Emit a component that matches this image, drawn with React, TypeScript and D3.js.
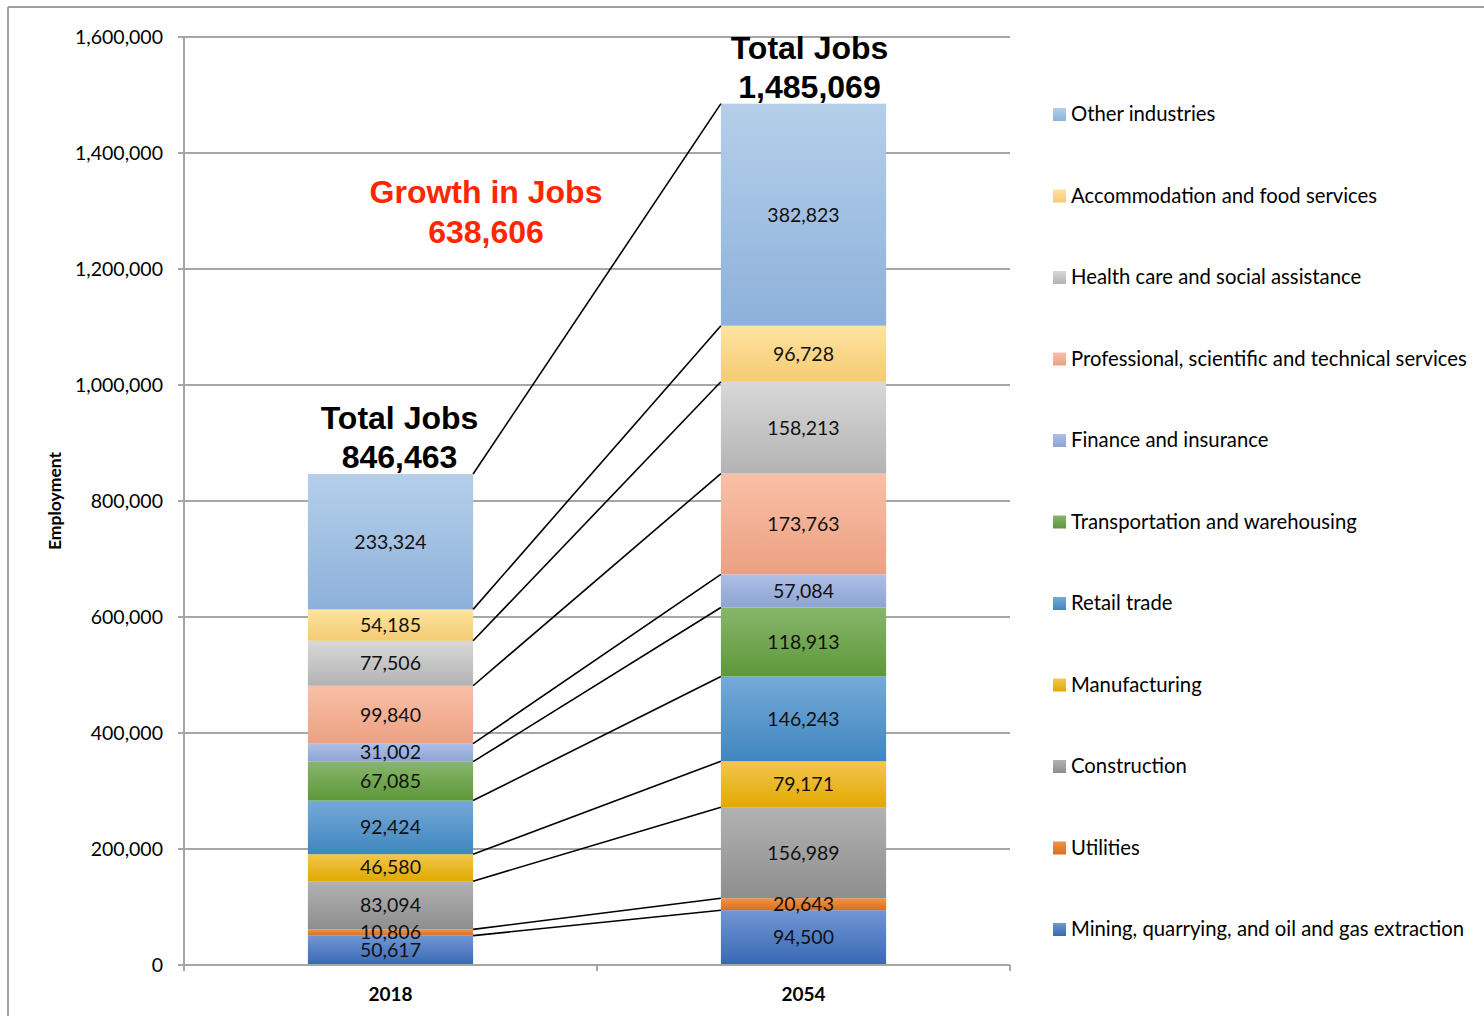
import React from "react";
import * as d3 from "d3";

const years = ["2018", "2054"];
const industries = [
  "Mining, quarrying, and oil and gas extraction",
  "Utilities",
  "Construction",
  "Manufacturing",
  "Retail trade",
  "Transportation and warehousing",
  "Finance and insurance",
  "Professional, scientific and technical services",
  "Health care and social assistance",
  "Accommodation and food services",
  "Other industries",
];
const values2018 = [50617, 10806, 83094, 46580, 92424, 67085, 31002, 99840, 77506, 54185, 233324];
const values2054 = [94500, 20643, 156989, 79171, 146243, 118913, 57084, 173763, 158213, 96728, 382823];
const totals = [846463, 1485069];
const growth = 638606;
const yTicks = [0, 200000, 400000, 600000, 800000, 1000000, 1200000, 1400000, 1600000];
const topColors = ["#7196d4", "#f09447", "#b2b2b2", "#f3c64e", "#76aad7", "#88b66c", "#aebfe7", "#f9c0a6", "#d8d8d8", "#fee3a0", "#b5cfea"];
const bottomColors = ["#3868b4", "#d86f1e", "#8e8e8e", "#e2a900", "#3f86c0", "#5d9839", "#8ea3d4", "#eca083", "#b3b3b3", "#f4cb72", "#8db1db"];

const fmt = d3.format(",");
const CAL = "Lato, 'Open Sans', sans-serif";
const HEL = "'Liberation Sans', Arial, sans-serif";

export default function App() {
  const W = 1484, H = 1016;
  const y = d3.scaleLinear().domain([0, 1600000]).range([965, 37]);
  const x = d3.scaleBand().domain(years).range([184, 1010]).paddingInner(0.6).paddingOuter(0.3);
  const rows = years.map((yr, i) => {
    const r: any = { year: yr };
    industries.forEach((k, j) => (r[k] = i === 0 ? values2018[j] : values2054[j]));
    return r;
  });
  const series = d3.stack().keys(industries)(rows);
  const bw = x.bandwidth();
  const x0 = x("2018")!;
  const x1 = x("2054")!;
  const legendY = d3.scalePoint().domain([...industries].reverse()).range([114, 929]);

  return (
    <svg width={W} height={H} style={{ display: "block", position: "absolute", left: 0, top: 0 }}>
      <defs>
        {industries.map((k, j) => (
          <linearGradient key={k} id={`g${j}`} x1="0" y1="0" x2="0" y2="1">
            <stop offset="0%" stopColor={topColors[j]} />
            <stop offset="100%" stopColor={bottomColors[j]} />
          </linearGradient>
        ))}
      </defs>
      <rect x={0} y={0} width={W} height={H} fill="#fff" />
      {/* outer border */}
      <line x1={8} y1={7} x2={W} y2={7} stroke="#a0a0a0" strokeWidth={2} />
      <line x1={8} y1={7} x2={8} y2={H} stroke="#a0a0a0" strokeWidth={2} />

      {/* grid */}
      {yTicks.filter((t) => t > 0).map((t) => (
        <line key={t} x1={184} x2={1010} y1={y(t)} y2={y(t)} stroke="#a6a6a6" strokeWidth={2} />
      ))}
      {/* y axis */}
      <line x1={184} x2={184} y1={y(1600000)} y2={y(0)} stroke="#a6a6a6" strokeWidth={2} />
      {yTicks.map((t) => (
        <g key={t}>
          <line x1={178} x2={184} y1={y(t)} y2={y(t)} stroke="#a6a6a6" strokeWidth={2} />
          <text x={163} y={y(t)} dy="0.35em" textAnchor="end" fontFamily={CAL} fontSize={19.5} fill="#000">
            {fmt(t)}
          </text>
        </g>
      ))}
      <text transform={`translate(61,${y(800000)}) rotate(-90)`} textAnchor="middle" fontFamily={CAL} fontSize={17.5} fontWeight="bold">
        Employment
      </text>

      {/* bars */}
      {series.map((s, j) =>
        s.map((d, i) => (
          <rect key={`${j}-${i}`} x={x(years[i])} width={bw} y={y(d[1])} height={y(d[0]) - y(d[1])} fill={`url(#g${j})`} />
        ))
      )}

      {/* connectors */}
      {series.map((s, j) => (
        <line key={`c${j}`} x1={x0 + bw} y1={y(s[0][1])} x2={x1} y2={y(s[1][1])} stroke="#000" strokeWidth={1.6} />
      ))}

      {/* x axis */}
      <line x1={178} x2={1010} y1={y(0)} y2={y(0)} stroke="#a6a6a6" strokeWidth={2} />
      {[184, x1 - (x1 - x0 - bw) / 2, 1010].map((v, i) => (
        <line key={i} x1={v} x2={v} y1={y(0)} y2={y(0) + 6} stroke="#a6a6a6" strokeWidth={2} />
      ))}
      {years.map((yr) => (
        <text key={yr} x={x(yr)! + bw / 2} y={1001} textAnchor="middle" fontFamily={CAL} fontSize={19} fontWeight="bold">
          {yr}
        </text>
      ))}

      {/* value labels */}
      {series.map((s, j) =>
        s.map((d, i) => (
          <text key={`l${j}-${i}`} x={x(years[i])! + bw / 2} y={(y(d[0]) + y(d[1])) / 2} dy="0.35em" textAnchor="middle" fontFamily={CAL} fontSize={19.5} fill="#111">
            {fmt(d[1] - d[0])}
          </text>
        ))
      )}

      {/* totals */}
      {years.map((yr, i) => (
        <g key={`t${yr}`}>
          <text x={x(yr)! + bw / 2 + (i === 0 ? 9 : 6)} y={y(totals[i]) - 45} textAnchor="middle" fontFamily={HEL} fontSize={32} fontWeight="bold">
            Total Jobs
          </text>
          <text x={x(yr)! + bw / 2 + (i === 0 ? 9 : 6)} y={y(totals[i]) - 6} textAnchor="middle" fontFamily={HEL} fontSize={32} fontWeight="bold">
            {fmt(totals[i])}
          </text>
        </g>
      ))}
      <text x={486} y={203} textAnchor="middle" fontFamily={HEL} fontSize={32} fontWeight="bold" fill="#ff2600">
        Growth in Jobs
      </text>
      <text x={486} y={243} textAnchor="middle" fontFamily={HEL} fontSize={32} fontWeight="bold" fill="#ff2600">
        {fmt(growth)}
      </text>

      {/* legend */}
      {industries.map((k, j) => (
        <g key={`lg${j}`} transform={`translate(1053,${legendY(k)})`}>
          <rect x={0} y={-6} width={13} height={13} fill={`url(#g${j})`} />
          <text x={18} y={0} dy="0.35em" fontFamily={CAL} fontSize={20.3} fill="#000">
            {k}
          </text>
        </g>
      ))}
    </svg>
  );
}
